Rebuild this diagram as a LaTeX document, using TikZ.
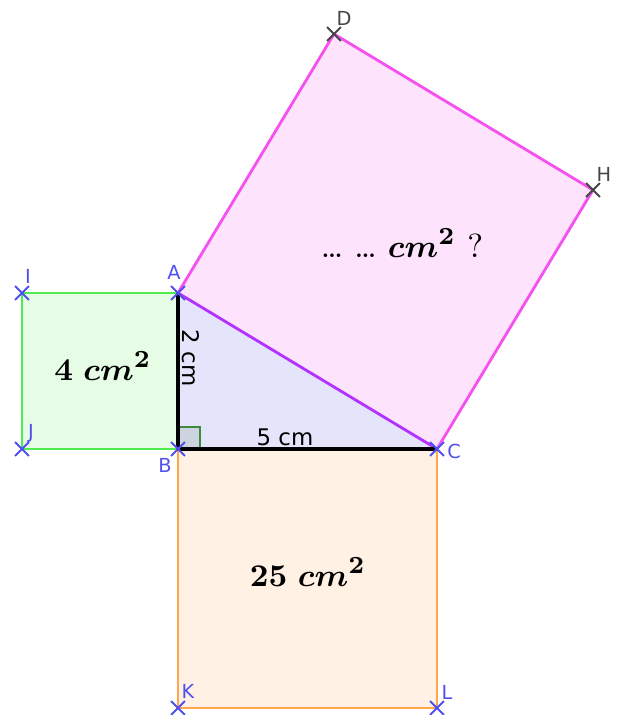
\documentclass[tikz,border=0pt]{standalone}
\usepackage{fontspec}
\usepackage{amsmath}
\usepackage{amssymb}
\usetikzlibrary{shapes.misc}
\setsansfont{DejaVu Sans}
\definecolor{ptblue}{RGB}{80, 80, 240}
\definecolor{ptgray}{RGB}{70, 70, 70}
\definecolor{greenfill}{RGB}{230, 252, 228}
\definecolor{greenline}{RGB}{80, 235, 80}
\definecolor{pinkfill}{RGB}{253, 227, 251}
\definecolor{pinkline}{RGB}{245, 80, 240}
\definecolor{orangefill}{RGB}{255, 241, 228}
\definecolor{orangeline}{RGB}{255, 166, 77}
\definecolor{trifill}{RGB}{228, 228, 250}
\definecolor{hypline}{RGB}{180, 50, 255}
\definecolor{anglefill}{RGB}{205, 212, 224}
\definecolor{angleline}{RGB}{60, 140, 60}

\begin{document}
\begin{tikzpicture}[
    x=0.01cm, y=-0.01cm,
    cross/.style={draw=ptblue, cross out, line width=0.55pt, minimum size=0.12cm, inner sep=0pt},
    graycross/.style={cross, draw=ptgray},
    ptlabel/.style={text=ptblue, font=\sffamily\fontsize{5.5}{6}\selectfont, inner sep=0pt},
    graylabel/.style={ptlabel, text=ptgray},
    side/.style={font=\sffamily\fontsize{6.5}{7}\selectfont, inner sep=0pt},
    area/.style={font=\fontsize{9.5}{10}\selectfont, inner sep=0pt}
]
\useasboundingbox (0,0) rectangle (622,715);

% points
\coordinate (A) at (178,293);
\coordinate (B) at (178,449);
\coordinate (C) at (437,449);
\coordinate (D) at (334,34);
\coordinate (H) at (593,190);
\coordinate (I) at (22,293);
\coordinate (J) at (22,449);
\coordinate (K) at (178,708);
\coordinate (L) at (437,708);

% fills
\fill[greenfill] (I) -- (A) -- (B) -- (J) -- cycle;
\fill[pinkfill] (A) -- (D) -- (H) -- (C) -- cycle;
\fill[orangefill] (B) -- (C) -- (L) -- (K) -- cycle;
\fill[trifill] (A) -- (B) -- (C) -- cycle;
\draw[angleline, fill=anglefill, line width=0.5pt] (B) rectangle ++(22,-22);

% edges
\draw[greenline, line width=0.8pt] (A) -- (I) -- (J) -- (B);
\draw[pinkline, line width=0.8pt] (A) -- (D) -- (H) -- (C);
\draw[orangeline, line width=0.8pt] (B) -- (K) -- (L) -- (C);
\draw[hypline, line width=0.8pt] (A) -- (C);
\draw[black, line width=1pt] (A) -- (B) -- (C);

% side lengths
\node[side, rotate=-90] (ab) at (191,358) {2 cm};
\node[side] (bc) at (285,437) {5 cm};

% areas
\node[area] (small) at (103,366) {$\boldsymbol{4\;cm^{2}}$};
\node[area] (big) at (308,572) {$\boldsymbol{25\;cm^{2}}$};
\node[area] (hyp) at (402,243) {\ldots\ \ldots\ $\boldsymbol{cm^{2}}$ ?};

% markers
\foreach \p in {A,B,C,I,J,K,L}
    \node[cross] at (\p) {};
\foreach \p in {D,H}
    \node[graycross] at (\p) {};

% labels
\node[ptlabel] (lA) at (174,272) {A};
\node[ptlabel] (lB) at (165,465) {B};
\node[ptlabel] (lC) at (454,451) {C};
\node[graylabel] (lD) at (344,18) {D};
\node[graylabel] (lH) at (604,174) {H};
\node[ptlabel] (lI) at (28,276) {I};
\node[ptlabel] (lJ) at (31,433) {J};
\node[ptlabel] (lK) at (188,691) {K};
\node[ptlabel] (lL) at (447,692) {L};

\end{tikzpicture}
\end{document}
